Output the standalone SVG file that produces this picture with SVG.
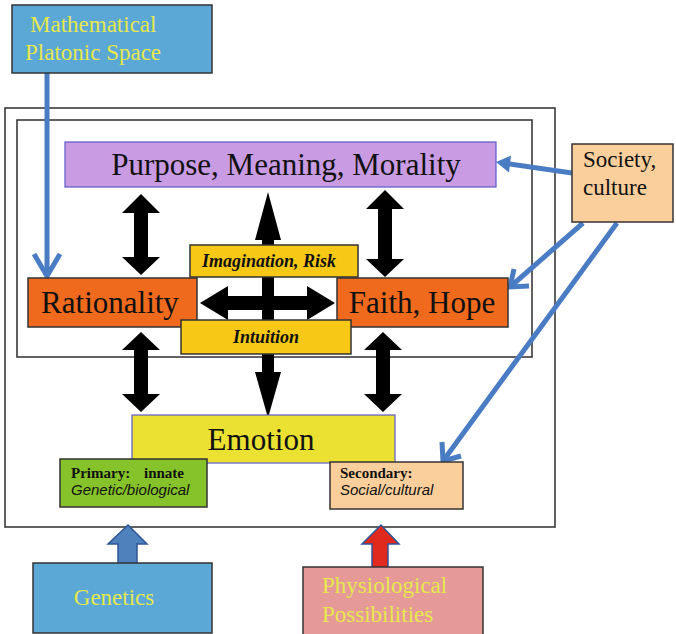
<svg xmlns="http://www.w3.org/2000/svg" width="676" height="634" viewBox="0 0 676 634">
<style>
.frame{fill:none;stroke:#3a3a3a;stroke-width:1.6}
.box{stroke:#333;stroke-width:1.5}
.pbox{stroke:#5a5ac8;stroke-width:1.2}
.serif{font-family:"Liberation Serif","Times New Roman",serif}
.sans{font-family:"Liberation Sans",Arial,sans-serif}
.big{font-size:31px;fill:#111}
.yt{font-size:23px;fill:#e6e84e}
.dt{font-size:23px;fill:#111}
.bi{font-size:18px;font-weight:bold;font-style:italic;fill:#111}
.sm{font-size:15px;font-weight:bold;fill:#111}
.si{font-size:15px;font-style:italic;fill:#111}
.blk{fill:#000}
.bl{fill:none;stroke:#4a7cc4;stroke-width:5}
</style>
<rect width="676" height="634" fill="#fff"/>
<rect id="outer-frame" class="frame" x="5" y="108" width="550" height="419"/>
<rect id="inner-frame" class="frame" x="17" y="120" width="515" height="237"/>

<g id="connectors">
  <polygon class="blk" points="141,194 160,213 148,213 148,257 160,257 141,275 122,257 134,257 134,213 122,213"/>
  <polygon class="blk" points="385,190 404,209 392,209 392,259 404,259 385,277 366,259 378,259 378,209 366,209"/>
  <polygon class="blk" points="141,332 160,350 148,350 148,394 160,394 141,412 122,394 134,394 134,350 122,350"/>
  <polygon class="blk" points="383,332 402,350 390,350 390,394 402,394 383,412 364,394 376,394 376,350 364,350"/>
  <polygon class="blk" points="268,192 281,240 274,240 274,372 281,372 268,418 255,372 262,372 262,240 255,240"/>
  <polygon class="blk" points="200,303 228,286 228,296 307,296 307,286 335,303 307,320 307,310 228,310 228,320"/>
  <line class="bl" x1="47" y1="73" x2="47" y2="275"/>
  <polyline class="bl" points="34,254 47,276 60,254"/>
  <line class="bl" x1="572" y1="173" x2="506" y2="163.5"/>
  <polygon fill="#4a7cc4" points="496,162 511,155.5 509,172.5"/>
  <line class="bl" x1="583" y1="223" x2="510" y2="287"/>
  <polyline class="bl" points="529,286 510,287 514,269"/>
  <line class="bl" x1="617" y1="223" x2="443" y2="461"/>
  <polyline class="bl" points="461,456 443,461 442,442"/>
  <polygon fill="#4f81bd" stroke="#2f5597" stroke-width="1.5" points="128,525 147,544 137,544 137,566 118,566 118,544 108,544"/>
  <polygon fill="#e02a1e" stroke="#2f5597" stroke-width="1.5" points="381,525 399,544 388,544 388,569 372,569 372,544 362,544"/>
</g>

<g id="mathematical-platonic-space">
  <rect class="box" x="12" y="5" width="200" height="68" fill="#5ba7d5"/>
  <text class="serif yt" x="30" y="32">Mathematical</text>
  <text class="serif yt" x="25" y="60">Platonic Space</text>
</g>
<g id="purpose">
  <rect class="pbox" x="65" y="142" width="431" height="45" fill="#c99be3"/>
  <text class="serif big" x="286" y="175" text-anchor="middle">Purpose, Meaning, Morality</text>
</g>
<g id="society-culture">
  <rect class="box" x="572" y="144" width="101" height="78" fill="#fbcf9b"/>
  <text class="serif dt" x="583" y="167">Society,</text>
  <text class="serif dt" x="583" y="195">culture</text>
</g>
<g id="imagination-risk">
  <rect class="box" x="190" y="245" width="168" height="32" fill="#f7c916"/>
  <text class="serif bi" x="269" y="267" text-anchor="middle">Imagination, Risk</text>
</g>
<g id="rationality">
  <rect class="box" x="28" y="278" width="169" height="49" fill="#ef6a1c"/>
  <text class="serif big" x="110" y="313" text-anchor="middle">Rationality</text>
</g>
<g id="faith-hope">
  <rect class="box" x="337" y="278" width="171" height="49" fill="#ef6a1c"/>
  <text class="serif big" x="422" y="313" text-anchor="middle">Faith, Hope</text>
</g>
<g id="intuition">
  <rect class="box" x="181" y="320" width="170" height="34" fill="#f7c916"/>
  <text class="serif bi" x="266" y="343" text-anchor="middle">Intuition</text>
</g>
<g id="emotion">
  <rect class="pbox" x="132" y="415" width="263" height="48" fill="#ebe133"/>
  <text class="serif big" x="261" y="450" text-anchor="middle">Emotion</text>
</g>
<g id="primary">
  <rect class="box" x="60" y="459" width="147" height="48" fill="#86c32a"/>
  <text class="serif sm" x="71" y="478">Primary:</text>
  <text class="serif sm" x="144" y="478">innate</text>
  <text class="sans si" x="71" y="495">Genetic/biological</text>
</g>
<g id="secondary">
  <rect class="box" x="330" y="462" width="133" height="47" fill="#fbcf9b"/>
  <text class="serif sm" x="340" y="478">Secondary:</text>
  <text class="sans si" x="340" y="495">Social/cultural</text>
</g>
<g id="genetics">
  <rect class="box" x="33" y="563" width="179" height="70" fill="#5ba7d5"/>
  <text class="serif yt" x="114" y="605" text-anchor="middle">Genetics</text>
</g>
<g id="physiological-possibilities">
  <rect class="box" x="303" y="567" width="180" height="70" fill="#e59a98"/>
  <text class="serif yt" x="322" y="593">Physiological</text>
  <text class="serif yt" x="322" y="622">Possibilities</text>
</g>
</svg>
